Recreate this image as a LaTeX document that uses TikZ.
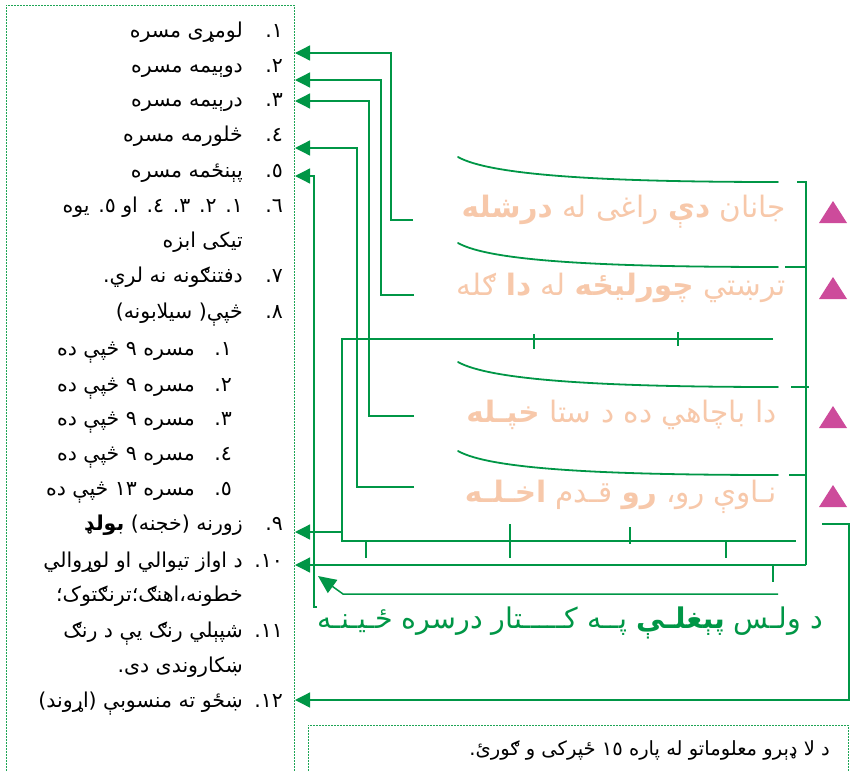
\documentclass[tikz,border=0pt]{standalone}
\usepackage{fontspec}
\usetikzlibrary{arrows.meta}
\TeXXeTstate=1
\newfontfamily\arabicfont[Script=Arabic]{DejaVu Sans}
\definecolor{gr}{RGB}{0,150,70}
\definecolor{dgr}{RGB}{30,165,85}
\definecolor{peach}{RGB}{247,200,170}
\definecolor{tri}{RGB}{205,75,155}
\tikzset{
  item/.style={anchor=base east, inner sep=0pt, font=\arabicfont\fontsize{20.5}{24}\selectfont},
  verse/.style={anchor=base east, inner sep=0pt, text=peach, font=\arabicfont\fontsize{29.5}{34}\selectfont},
  conn/.style={draw=gr, line width=1.3pt},
  arr/.style={conn, -{Triangle[length=15pt,width=15pt]}},
  bigarr/.style={conn, line width=1.5pt, -{Triangle[length=18pt,width=16pt]}},
  curveline/.style={draw=gr, line width=1.8pt, line cap=round},
  dashbox/.style={draw=dgr, line width=0.8pt, dash pattern=on 2pt off 1pt},
  tick/.style={draw=gr, line width=1.3pt}
}
\begin{document}
\begin{tikzpicture}[x=1pt,y=-1pt]
\useasboundingbox (0,0) rectangle (850,771);
% boxes
\draw[dashbox] (6,771) -- (6,5) -- (294,5) -- (294,771);
\draw[dashbox] (308,771) -- (308,725) -- (848,725) -- (848,771);
% list
\node[item] (m1) at (283,37) {\beginR ١.\endR};
\node[item] (n1) at (243,37) {\beginR لومړی مسره\endR};
\node[item] (m2) at (283,72) {\beginR ٢.\endR};
\node[item] (n2) at (243,72) {\beginR دوېیمه مسره\endR};
\node[item] (m3) at (283,106) {\beginR ٣.\endR};
\node[item] (n3) at (243,106) {\beginR درېیمه مسره\endR};
\node[item] (m4) at (283,141) {\beginR ٤.\endR};
\node[item] (n4) at (243,141) {\beginR څلورمه مسره\endR};
\node[item] (m5) at (283,177) {\beginR ٥.\endR};
\node[item] (n5) at (243,177) {\beginR پېنځمه مسره\endR};
\node[item] (m6) at (283,212) {\beginR ٦.\endR};
\node[item] (n6) at (243,212) {\beginR ١. ٢. ٣. ٤. او ٥. یوه\endR};
\node[item] (n6b) at (243,247) {\beginR تیکی ابزه\endR};
\node[item] (m7) at (283,282) {\beginR ٧.\endR};
\node[item] (n7) at (243,282) {\beginR دفتنګونه نه لري.\endR};
\node[item] (m8) at (283,318) {\beginR ٨.\endR};
\node[item] (n8) at (243,318) {\beginR څپې( سیلابونه)\endR};
\node[item] (k1) at (232,355) {\beginR ١.\endR};
\node[item] (s1) at (195,355) {\beginR مسره ٩ څپې ده\endR};
\node[item] (k2) at (232,391) {\beginR ٢.\endR};
\node[item] (s2) at (195,391) {\beginR مسره ٩ څپې ده\endR};
\node[item] (k3) at (232,425) {\beginR ٣.\endR};
\node[item] (s3) at (195,425) {\beginR مسره ٩ څپې ده\endR};
\node[item] (k4) at (232,460) {\beginR ٤.\endR};
\node[item] (s4) at (195,460) {\beginR مسره ٩ څپې ده\endR};
\node[item] (k5) at (232,495) {\beginR ٥.\endR};
\node[item] (s5) at (195,495) {\beginR مسره ١٣ څپې ده\endR};
\node[item] (m9) at (283,530) {\beginR ٩.\endR};
\node[item] (n9) at (243,530) {\beginR زورنه (خجنه) {\bfseries بولډ}\endR};
\node[item] (m10) at (283,567) {\beginR ١٠.\endR};
\node[item] (n10) at (243,567) {\beginR د اواز تیوالي او لوړوالي\endR};
\node[item] (n10b) at (243,601) {\beginR خطونه،اهنګ؛ترنګتوک؛\endR};
\node[item] (m11) at (283,637) {\beginR ١١.\endR};
\node[item] (n11) at (243,637) {\beginR شپېلي رنګ یې د رنګ\endR};
\node[item] (n11b) at (243,672) {\beginR ښکاروندی دی.\endR};
\node[item] (m12) at (283,707) {\beginR ١٢.\endR};
\node[item] (n12) at (243,707) {\beginR ښځو ته منسوبې (اړوند)\endR};
% verses
\node[verse] (v1) at (786,217) {\beginR جانان {\bfseries دې} راغی له {\bfseries درشله}\endR};
\node[verse] (v2) at (786,295) {\beginR ترښتي {\bfseries چورلیځه} له {\bfseries دا} ګله\endR};
\node[verse] (v3) at (777,422) {\beginR دا باچاهي ده د ستا {\bfseries خپـله}\endR};
\node[verse] (v4) at (777,502) {\beginR نـاوې رو، {\bfseries رو} قـدم {\bfseries اخـلـه}\endR};
\node[anchor=base east, inner sep=0pt, text=gr, font=\arabicfont\fontsize{28.5}{32}\selectfont] (g) at (823,628)
  {\beginR د ولـس {\bfseries پېغلـې} پــه کـــــتار درسره ځـیـنـه\endR};
\node[anchor=base east, inner sep=0pt, font=\arabicfont\fontsize{19.5}{22}\selectfont] (b) at (830,755)
  {\beginR د لا ډېرو معلوماتو له پاره ١٥  ځپرکی و ګورئ.\endR};
% triangles
\fill[tri] (819,223) -- (847,223) -- (833,201) -- cycle;
\fill[tri] (819,299) -- (847,299) -- (833,277) -- cycle;
\fill[tri] (819,428) -- (847,428) -- (833,406) -- cycle;
\fill[tri] (819,507) -- (847,507) -- (833,485) -- cycle;
% curves
\draw[curveline] (458,157) .. controls (490,175) and (600,182) .. (778,182);
\draw[curveline] (458,243) .. controls (490,261) and (600,267) .. (778,267);
\draw[curveline] (458,362) .. controls (490,380) and (600,387) .. (778,387);
\draw[curveline] (458,451) .. controls (490,469) and (600,475) .. (778,475);
% coordinates
\coordinate (t1) at (295,53);
\coordinate (t2) at (295,80);
\coordinate (t3) at (295,101);
\coordinate (t4) at (295,148);
\coordinate (t5) at (295,176);
\coordinate (t9) at (295,532);
\coordinate (t10) at (295,565);
\coordinate (t11) at (318,576);
\coordinate (t12) at (295,700);
\coordinate (a1) at (413,220);
\coordinate (a2) at (414,295);
\coordinate (a3) at (414,416);
\coordinate (a4) at (414,487);
\coordinate (a5) at (317,607);
% connectors
\draw[arr] (a1) -- (391,220) -- (391,53) -- (t1);
\draw[arr] (a2) -- (381,295) -- (381,80) -- (t2);
\draw[arr] (a3) -- (369,416) -- (369,101) -- (t3);
\draw[arr] (a4) -- (357,487) -- (357,148) -- (t4);
\draw[arr] (a5) -- (314,607) -- (314,176) -- (t5);
\draw[conn] (773,339) -- (342,339) -- (342,541) -- (796,541);
\draw[arr] (342,532) -- (t9);
\draw[conn] (797,182) -- (806,182) -- (806,565);
\draw[arr] (806,565) -- (t10);
\draw[bigarr] (778,594) -- (343,594) -- (t11);
\draw[arr] (822,524) -- (849,524) -- (849,700) -- (t12);
% ticks
\draw[tick] (534,334) -- (534,349);
\draw[tick] (678,332) -- (678,346);
\draw[tick] (366,541) -- (366,558);
\draw[tick] (510,524) -- (510,558);
\draw[tick] (630,527) -- (630,544);
\draw[tick] (726,541) -- (726,558);
\draw[tick] (773,565) -- (773,582);
\draw[tick] (785,267) -- (806,267);
\draw[tick] (791,387) -- (809,387);
\draw[tick] (789,475) -- (807,475);
\end{tikzpicture}
\end{document}
